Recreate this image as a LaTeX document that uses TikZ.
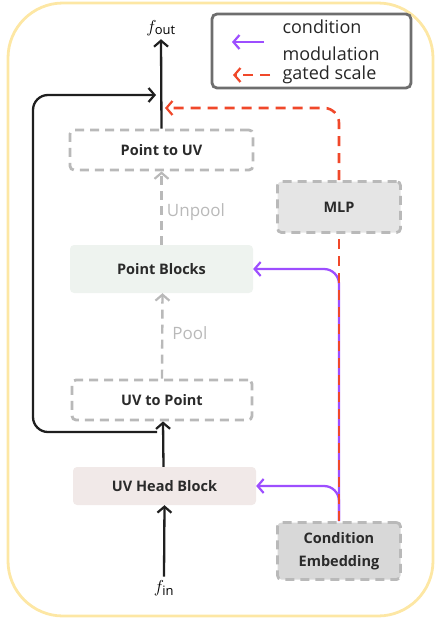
\documentclass[tikz,border=0pt]{standalone}
\usepackage{fontspec}
\setmainfont{Open Sans}
\usetikzlibrary{arrows.meta}

\definecolor{ringyellow}{HTML}{FDE7A4}
\definecolor{legendgray}{HTML}{6E6E6E}
\definecolor{boxgray}{HTML}{B9B9B9}
\definecolor{pointfill}{HTML}{EEF3EF}
\definecolor{headfill}{HTML}{F1E9E8}
\definecolor{mlpfill}{HTML}{E5E5E5}
\definecolor{embfill}{HTML}{D8D8D8}
\definecolor{condpurple}{HTML}{9D4EFF}
\definecolor{gatered}{HTML}{F0482A}
\definecolor{textdark}{HTML}{2A2A2A}

\tikzset{
  blk/.style={rounded corners=4pt, minimum width=183pt, minimum height=40pt,
    font=\fontsize{14.5}{23}\selectfont\bfseries, text=textdark, align=center},
  dashblk/.style={blk, draw=boxgray, line width=2.8pt, dash pattern=on 9pt off 6pt},
  sideblk/.style={dashblk, minimum width=123pt},
  tip/.style={-{Straight Barb[length=6pt,width=14pt,line width=2.2pt]}},
  main/.style={tip, line width=2.3pt, black!88},
  poolarrow/.style={tip, line width=2.4pt, boxgray, dash pattern=on 9pt off 6pt},
  cond/.style={tip, line width=2.3pt, condpurple, rounded corners=15pt},
  gateline/.style={line width=2.6pt, gatered, dash pattern=on 10pt off 7pt, rounded corners=15pt},
  gated/.style={tip, gateline},
  pooltext/.style={text=boxgray, font=\fontsize{17}{19}\selectfont},
  legtext/.style={anchor=west, font=\fontsize{18}{20}\selectfont, text=black!85}
}

\begin{document}
\begin{tikzpicture}[x=1pt,y=-1pt]
  \useasboundingbox (0,0) rectangle (435,619);

  \draw[ringyellow, line width=2.8pt, rounded corners=55pt] (8,3) rectangle (433,616);

  % legend
  \draw[legendgray, line width=2.8pt, rounded corners=5pt] (212,14) rectangle (411,88);
  \node[legtext] (legcond) at (279,27) {condition};
  \node[legtext] (legmod) at (279,54) {modulation};
  \node[legtext] (leggate) at (279,75) {gated scale};
  \coordinate (lc1) at (264,42);
  \coordinate (lc2) at (232,42);
  \coordinate (lg1) at (270,75);
  \coordinate (lg2) at (233,75);
  \draw[cond] (lc1) -- (lc2);
  \draw[gated] (lg1) -- (lg2);

  % main column
  \node[dashblk] (p2uv) at (161.5,150) {Point to UV};
  \node[blk, fill=pointfill, minimum height=48pt] (pblocks) at (161.5,269) {Point Blocks};
  \node[dashblk, minimum width=180pt] (uv2p) at (162,400) {UV to Point};
  \node[blk, fill=headfill, minimum height=38pt] (uvhead) at (164.5,486) {UV Head Block};

  \node[font=\fontsize{18.5}{20}\selectfont] (fout) at (161,28) {$f_{\mathrm{out}}$};
  \node[font=\fontsize{18.5}{20}\selectfont] (fin) at (164,588) {$f_{\mathrm{in}}$};

  % side column
  \node[sideblk, fill=mlpfill, minimum height=51pt] (mlp) at (339,207) {MLP};
  \node[sideblk, fill=embfill, minimum height=57pt] (emb) at (339,551) {Condition\\Embedding};

  \draw[main] (fin.north) -- (uvhead.south);
  \draw[main] ([xshift=-1pt]uvhead.north) -- ([xshift=1pt]uv2p.south);
  \draw[main] (p2uv.north) -- (fout.south);

  \coordinate (skipin) at (157,432);
  \coordinate (skipout) at (156,95);
  \draw[main, rounded corners=15pt] (skipin) -- (33,432) -- (33,95) -- (skipout);

  \draw[poolarrow] (uv2p.north) -- ([xshift=1pt]pblocks.south);
  \node[pooltext] (pool) at (190,333) {Pool};
  \draw[poolarrow] (pblocks.north) -- (p2uv.south);
  \node[pooltext] (unpool) at (196,212) {Unpool};

  \draw[cond] (emb.north) |- (uvhead.east);
  \draw[cond] (emb.north) |- (pblocks.east);

  \coordinate (gate) at (165,108);
  \draw[gateline] (emb.north) -- (mlp.south);
  \draw[gated] (mlp.north) |- (gate);
\end{tikzpicture}
\end{document}
